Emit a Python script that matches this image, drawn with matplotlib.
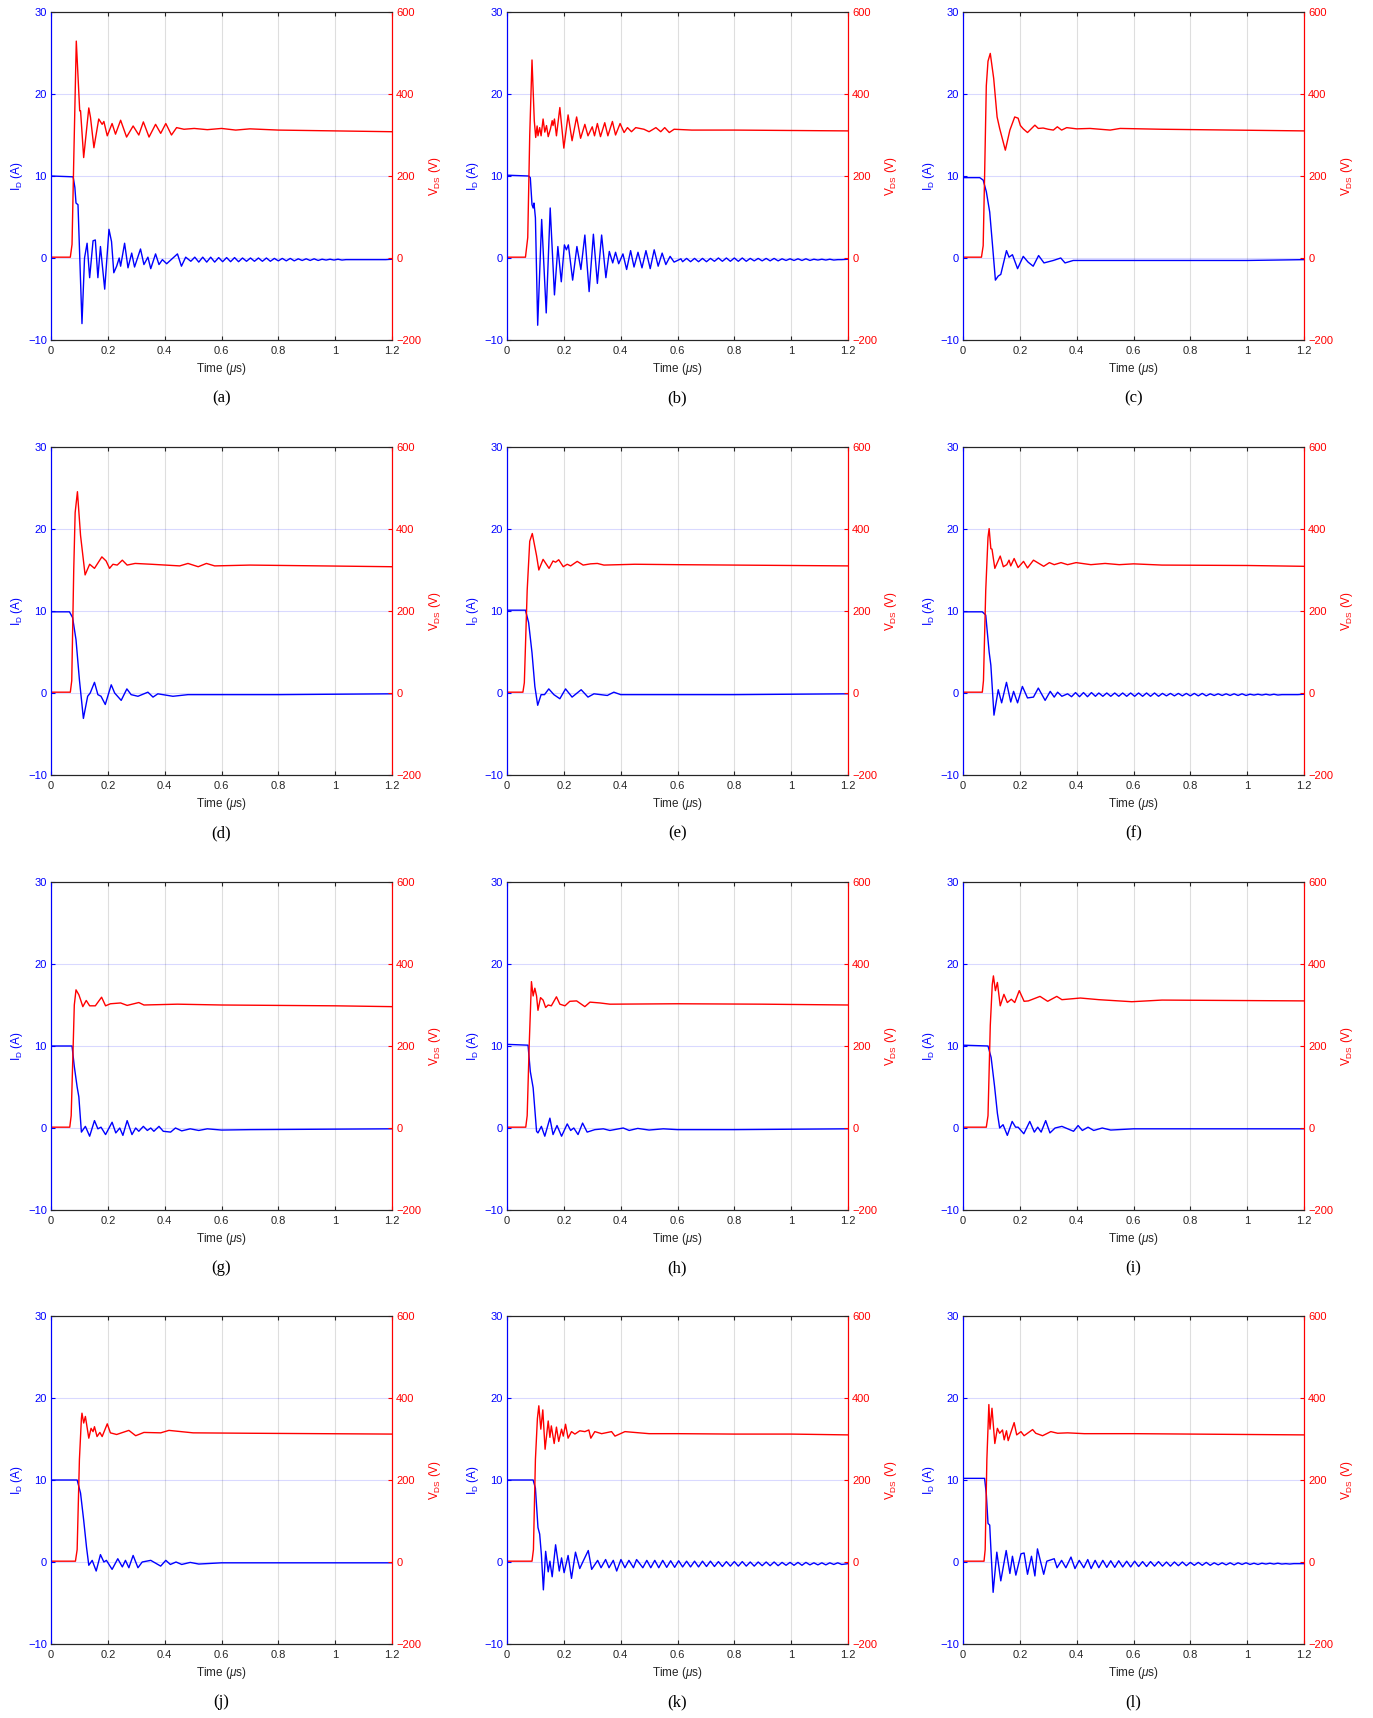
import matplotlib.pyplot as plt

plt.rcParams['font.family'] = ['Liberation Sans', 'DejaVu Sans']
plt.rcParams['mathtext.fontset'] = 'custom'
plt.rcParams['mathtext.rm'] = 'Liberation Sans'
plt.rcParams['mathtext.it'] = 'Liberation Sans:italic'

# drain current I_D (A) and drain-source voltage V_DS (V), time in us
ia_t = [0, 0.078, 0.084, 0.088, 0.095, 0.109, 0.118, 0.127, 0.136, 0.148, 0.156, 0.165, 0.174, 0.189, 0.204,
        0.213, 0.221, 0.231, 0.240, 0.245, 0.259, 0.271, 0.284, 0.294, 0.315, 0.327, 0.341, 0.351, 0.368, 0.380,
        0.392, 0.407, 0.445, 0.459, 0.474, 0.492]
ia = [10.0, 9.9, 8.6, 6.7, 6.5, -8.0, 0.0, 1.8, -2.4, 2.1, 2.2, -2.4, 1.4, -3.8, 3.5,
      2.0, -1.8, -1.0, 0.0, -1.0, 1.8, -1.2, 0.6, -1.1, 1.1, -0.8, 0.1, -1.3, 0.5, -0.8,
      -0.2, -0.7, 0.5, -1.0, 0.1, -0.4]
va_t = [0, 0.068, 0.074, 0.080, 0.089, 0.101, 0.104, 0.115, 0.133, 0.139, 0.151, 0.168, 0.180, 0.186, 0.198,
        0.215, 0.227, 0.245, 0.266, 0.289, 0.309, 0.325, 0.345, 0.368, 0.386, 0.404, 0.424, 0.442, 0.468, 0.504,
        0.55, 0.6, 0.65, 0.7, 0.8, 0.9, 1.0, 1.2]
va = [2, 2, 33, 237, 529, 359, 359, 245, 366, 343, 269, 339, 326, 333, 298,
      328, 302, 336, 295, 322, 300, 332, 295, 326, 304, 328, 300, 318, 314, 316,
      313, 316, 312, 315, 312, 311, 310, 308]

ib_t = [0, 0.076, 0.082, 0.088, 0.092, 0.095, 0.100, 0.108, 0.122, 0.138, 0.152, 0.167, 0.179, 0.191, 0.202,
        0.209, 0.216, 0.231, 0.246, 0.260, 0.274, 0.289, 0.304, 0.318, 0.333, 0.348, 0.360, 0.372, 0.382, 0.393,
        0.408, 0.421, 0.435, 0.447, 0.461, 0.475, 0.489, 0.504, 0.518, 0.532, 0.546, 0.559, 0.574, 0.588, 0.612]
ib = [10.1, 10.0, 9.8, 6.5, 6.1, 6.7, 4.9, -8.2, 4.7, -6.7, 6.1, -4.5, 1.4, -2.9, 1.6,
      1.0, 1.6, -2.7, 1.4, -1.4, 2.8, -4.1, 2.9, -3.1, 2.8, -2.4, 0.8, -0.6, 0.7, -0.7,
      0.5, -1.4, 0.9, -1.1, 0.7, -1.2, 0.9, -1.3, 1.0, -1.0, 0.6, -0.8, 0.2, -0.5, -0.1]
vb_t = [0, 0.065, 0.073, 0.080, 0.088, 0.096, 0.101, 0.106, 0.109, 0.115, 0.120, 0.127, 0.133, 0.139, 0.145,
        0.153, 0.159, 0.162, 0.167, 0.174, 0.186, 0.200, 0.215, 0.229, 0.245, 0.259, 0.274, 0.285, 0.300, 0.308,
        0.318, 0.329, 0.344, 0.355, 0.371, 0.382, 0.398, 0.412, 0.424, 0.438, 0.453, 0.482, 0.500, 0.524, 0.541,
        0.555, 0.571, 0.588, 0.65, 0.8, 1.0, 1.2]
vb = [2, 2, 50, 300, 483, 335, 294, 322, 298, 318, 298, 339, 307, 323, 296,
      315, 335, 323, 339, 298, 367, 268, 349, 286, 344, 292, 326, 298, 320, 298,
      328, 296, 330, 298, 333, 300, 328, 306, 318, 308, 318, 314, 308, 318, 308,
      318, 306, 314, 312, 312, 311, 310]

ic_t = [0, 0.059, 0.071, 0.082, 0.094, 0.104, 0.114, 0.124, 0.133, 0.153, 0.162, 0.174, 0.192, 0.212, 0.229,
        0.247, 0.266, 0.285, 0.318, 0.344, 0.359, 0.388, 0.6, 0.8, 1.0, 1.2]
ic = [9.8, 9.8, 9.5, 8.1, 5.6, 1.5, -2.7, -2.2, -2.0, 0.9, 0.1, 0.4, -1.3, 0.2, -0.5,
      -1.0, 0.3, -0.6, -0.3, 0.0, -0.6, -0.3, -0.3, -0.3, -0.3, -0.2]
vc_t = [0, 0.065, 0.071, 0.076, 0.082, 0.088, 0.096, 0.108, 0.120, 0.129, 0.149, 0.165, 0.182, 0.194, 0.202,
        0.212, 0.227, 0.253, 0.265, 0.282, 0.300, 0.318, 0.332, 0.347, 0.365, 0.40, 0.447, 0.518, 0.553, 0.7, 1.2]
vc = [2, 2, 30, 200, 420, 480, 499, 438, 344, 316, 263, 312, 344, 341, 323,
      315, 306, 324, 316, 317, 314, 312, 320, 312, 318, 315, 316, 312, 316, 314, 310]

id_t = [0, 0.065, 0.076, 0.088, 0.100, 0.114, 0.129, 0.138, 0.153, 0.165, 0.176, 0.191, 0.212, 0.224, 0.247,
        0.267, 0.282, 0.306, 0.341, 0.359, 0.376, 0.429, 0.482, 0.8, 1.2]
id_ = [9.9, 9.9, 9.2, 6.5, 1.6, -3.1, -0.4, 0.0, 1.3, -0.2, -0.4, -1.4, 1.0, 0.0, -0.9,
       0.5, -0.2, -0.4, 0.1, -0.5, -0.1, -0.4, -0.2, -0.2, -0.1]
vd_t = [0, 0.068, 0.073, 0.080, 0.085, 0.093, 0.104, 0.120, 0.136, 0.153, 0.179, 0.194, 0.206, 0.218, 0.233,
        0.251, 0.268, 0.296, 0.353, 0.453, 0.482, 0.518, 0.547, 0.576, 0.7, 1.2]
vd = [2, 2, 30, 300, 440, 491, 384, 288, 314, 304, 332, 322, 304, 314, 312,
      324, 312, 316, 314, 310, 316, 308, 316, 310, 312, 308]

ie_t = [0, 0.065, 0.076, 0.088, 0.098, 0.108, 0.120, 0.132, 0.147, 0.165, 0.186, 0.206, 0.229, 0.261, 0.285,
        0.306, 0.353, 0.376, 0.400, 0.8, 1.2]
ie = [10.1, 10.1, 8.6, 4.9, 0.8, -1.5, -0.2, -0.2, 0.5, -0.2, -0.7, 0.5, -0.5, 0.4, -0.5,
      -0.1, -0.3, 0.1, -0.2, -0.2, -0.1]
ve_t = [0, 0.056, 0.061, 0.071, 0.080, 0.089, 0.104, 0.112, 0.127, 0.148, 0.162, 0.171, 0.182, 0.198, 0.212,
        0.224, 0.247, 0.268, 0.294, 0.318, 0.341, 0.45, 0.6, 0.8, 1.2]
ve = [2, 2, 25, 250, 370, 389, 335, 300, 326, 304, 322, 319, 325, 308, 314,
      310, 321, 312, 315, 316, 312, 314, 313, 312, 310]

if_t = [0, 0.068, 0.080, 0.092, 0.098, 0.109, 0.124, 0.136, 0.153, 0.168, 0.178, 0.192, 0.209, 0.227, 0.248,
        0.265, 0.289, 0.307, 0.321, 0.333, 0.348, 0.368, 0.382, 0.396, 0.410, 0.424, 0.438, 0.452, 0.466]
if_ = [9.9, 9.9, 9.5, 5.0, 3.4, -2.7, 0.4, -1.2, 1.3, -1.1, 0.2, -1.2, 0.8, -0.6, -0.5,
       0.6, -0.9, 0.2, -0.5, 0.1, -0.4, -0.1, -0.45, 0.05, -0.45, 0.05, -0.45, 0.05, -0.4]
vf_t = [0, 0.068, 0.072, 0.080, 0.088, 0.092, 0.098, 0.102, 0.112, 0.131, 0.142, 0.154, 0.162, 0.168, 0.180,
        0.194, 0.213, 0.227, 0.248, 0.284, 0.304, 0.321, 0.345, 0.368, 0.398, 0.45, 0.5, 0.55, 0.6, 0.7,
        1.0, 1.2]
vf = [2, 2, 30, 250, 380, 401, 352, 351, 304, 334, 308, 313, 324, 310, 328,
      306, 321, 305, 324, 309, 318, 313, 318, 313, 318, 313, 316, 313, 315, 312,
      311, 309]

ig_t = [0, 0.074, 0.082, 0.092, 0.098, 0.107, 0.121, 0.136, 0.153, 0.165, 0.176, 0.192, 0.215, 0.228, 0.242,
        0.253, 0.268, 0.285, 0.298, 0.309, 0.325, 0.339, 0.351, 0.362, 0.380, 0.395, 0.421, 0.438, 0.46, 0.49,
        0.52, 0.55, 0.6, 0.7, 1.2]
ig = [10.0, 10.0, 7.5, 5.0, 3.8, -0.5, 0.2, -1.0, 0.9, -0.1, 0.1, -0.8, 0.7, -0.6, 0.0,
      -0.9, 0.9, -0.8, 0.0, -0.4, 0.2, -0.3, 0.0, -0.4, 0.2, -0.4, -0.5, 0.0, -0.35, -0.1,
      -0.3, -0.1, -0.25, -0.2, -0.1]
vg_t = [0, 0.066, 0.071, 0.078, 0.082, 0.088, 0.098, 0.104, 0.112, 0.124, 0.136, 0.156, 0.178, 0.192, 0.209,
        0.245, 0.268, 0.309, 0.327, 0.445, 0.6, 0.8, 1.0, 1.2]
vg = [2, 2, 30, 200, 300, 337, 325, 313, 296, 311, 298, 298, 319, 298, 303,
      305, 299, 306, 300, 302, 300, 299, 298, 296]

ih_t = [0, 0.074, 0.082, 0.092, 0.104, 0.109, 0.121, 0.133, 0.151, 0.162, 0.176, 0.192, 0.212, 0.224, 0.235,
        0.250, 0.266, 0.282, 0.309, 0.339, 0.362, 0.409, 0.43, 0.46, 0.5, 0.55, 0.6, 0.8, 1.2]
ih = [10.2, 10.1, 6.9, 4.9, -0.4, -0.6, 0.2, -1.0, 1.2, -0.8, 0.3, -1.0, 0.5, -0.3, 0.0,
      -0.8, 0.6, -0.5, -0.2, -0.1, -0.3, 0.0, -0.3, -0.05, -0.25, -0.1, -0.2, -0.2, -0.1]
vh_t = [0, 0.066, 0.071, 0.078, 0.086, 0.092, 0.098, 0.104, 0.109, 0.118, 0.127, 0.136, 0.145, 0.156, 0.174,
        0.186, 0.204, 0.221, 0.245, 0.274, 0.292, 0.327, 0.362, 0.6, 0.9, 1.2]
vh = [2, 2, 30, 200, 357, 322, 341, 322, 287, 318, 312, 294, 300, 298, 320,
      302, 298, 309, 310, 296, 307, 305, 302, 303, 302, 300]

ii_t = [0, 0.088, 0.099, 0.111, 0.121, 0.129, 0.141, 0.156, 0.173, 0.185, 0.194, 0.214, 0.235, 0.251, 0.263,
        0.275, 0.291, 0.306, 0.324, 0.348, 0.389, 0.405, 0.42, 0.44, 0.46, 0.49, 0.52, 0.6, 0.8, 1.2]
ii = [10.1, 10.0, 8.6, 5.1, 1.8, 0.0, 0.4, -0.9, 0.8, 0.1, 0.1, -0.7, 0.8, -0.5, 0.1,
      -0.5, 0.9, -0.6, 0.0, 0.2, -0.4, 0.3, -0.3, 0.1, -0.3, 0.0, -0.25, -0.1, -0.1, -0.1]
vi_t = [0, 0.082, 0.088, 0.096, 0.103, 0.107, 0.114, 0.121, 0.131, 0.144, 0.156, 0.170, 0.182, 0.198, 0.215,
        0.230, 0.271, 0.298, 0.330, 0.348, 0.413, 0.478, 0.594, 0.7, 1.2]
vi = [2, 2, 30, 250, 350, 371, 335, 355, 298, 326, 306, 314, 306, 335, 309,
      310, 321, 309, 321, 313, 317, 313, 308, 312, 310]

ij_t = [0, 0.092, 0.104, 0.115, 0.125, 0.133, 0.145, 0.159, 0.174, 0.186, 0.195, 0.215, 0.235, 0.251, 0.262,
        0.274, 0.289, 0.306, 0.321, 0.351, 0.386, 0.404, 0.42, 0.44, 0.46, 0.49, 0.52, 0.6, 0.8, 1.2]
ij = [10.0, 10.0, 8.4, 5.1, 1.8, -0.4, 0.2, -1.1, 0.9, 0.0, 0.2, -0.9, 0.4, -0.6, 0.2,
      -0.7, 0.8, -0.7, 0.0, 0.2, -0.5, 0.2, -0.3, 0.0, -0.3, -0.05, -0.25, -0.1, -0.1, -0.1]
vj_t = [0, 0.086, 0.092, 0.100, 0.107, 0.109, 0.115, 0.121, 0.133, 0.141, 0.148, 0.153, 0.162, 0.172, 0.180,
        0.198, 0.209, 0.231, 0.274, 0.298, 0.327, 0.386, 0.415, 0.5, 0.7, 1.2]
vj = [2, 2, 30, 250, 350, 363, 339, 355, 302, 326, 318, 330, 306, 316, 306,
      337, 315, 311, 321, 308, 316, 315, 321, 315, 314, 312]

ik_t = [0, 0.092, 0.100, 0.109, 0.115, 0.121, 0.128, 0.136, 0.145, 0.151, 0.159, 0.171, 0.184, 0.192, 0.201,
        0.215, 0.227, 0.241, 0.256, 0.268, 0.286, 0.298, 0.319, 0.331, 0.347, 0.359, 0.374, 0.386, 0.401, 0.415,
        0.429, 0.445, 0.456]
ik = [10.0, 10.0, 9.0, 4.2, 3.4, 0.9, -3.4, 1.3, -1.2, 0.1, -1.8, 2.1, -1.1, 0.5, -1.3,
      0.8, -2.0, 1.2, -0.8, 0.1, 1.4, -0.9, 0.2, -0.7, 0.3, -0.7, 0.2, -1.1, 0.3, -0.7,
      0.2, -0.7, 0.3]
vk_t = [0, 0.088, 0.093, 0.100, 0.107, 0.112, 0.119, 0.126, 0.134, 0.145, 0.151, 0.156, 0.166, 0.174, 0.182,
        0.192, 0.198, 0.206, 0.215, 0.227, 0.239, 0.256, 0.274, 0.288, 0.295, 0.309, 0.333, 0.368, 0.380, 0.415,
        0.5, 0.6, 0.8, 1.0, 1.2]
vk = [2, 2, 30, 250, 350, 381, 324, 371, 275, 344, 304, 332, 289, 329, 294,
      324, 307, 336, 302, 318, 312, 320, 318, 322, 302, 318, 313, 318, 307, 318,
      313, 313, 312, 312, 310]

il_t = [0, 0.076, 0.082, 0.088, 0.094, 0.098, 0.106, 0.119, 0.133, 0.152, 0.165, 0.174, 0.186, 0.204, 0.215,
        0.227, 0.241, 0.253, 0.262, 0.284, 0.295, 0.321, 0.331, 0.347, 0.362, 0.380, 0.394, 0.409, 0.425, 0.439,
        0.451, 0.465]
il = [10.2, 10.2, 8.3, 4.7, 4.5, 1.7, -3.7, 1.2, -2.3, 1.4, -1.4, 0.7, -1.6, 1.0, 1.1,
      -1.5, 0.7, -1.7, 1.6, -1.5, 0.1, 0.4, -0.7, 0.2, -0.7, 0.6, -0.8, 0.2, -0.7, 0.3,
      -0.8, 0.2]
vl_t = [0, 0.074, 0.078, 0.084, 0.091, 0.095, 0.102, 0.112, 0.121, 0.129, 0.139, 0.145, 0.153, 0.159, 0.168,
        0.180, 0.189, 0.204, 0.215, 0.229, 0.245, 0.256, 0.280, 0.309, 0.333, 0.368, 0.427, 0.6, 0.8, 1.2]
vl = [2, 2, 30, 250, 384, 324, 375, 289, 326, 314, 322, 298, 320, 296, 315,
      340, 310, 318, 308, 315, 323, 314, 308, 318, 314, 315, 313, 313, 312, 310]

tail_t = [0.478, 0.492, 0.506, 0.520, 0.534, 0.548, 0.562, 0.576, 0.590, 0.604,
          0.618, 0.632, 0.646, 0.660, 0.674, 0.688, 0.702, 0.716, 0.730, 0.744,
          0.758, 0.772, 0.786, 0.800, 0.814, 0.828, 0.842, 0.856, 0.870, 0.884,
          0.898, 0.912, 0.926, 0.940, 0.954, 0.968, 0.982, 0.996, 1.010, 1.024,
          1.038, 1.052, 1.066, 1.080, 1.094, 1.108, 1.122, 1.136, 1.150, 1.164,
          1.178, 1.2]
ia_tail = [0.1, -0.4, 0.1, -0.5, 0.1, -0.5, 0.1, -0.5, 0.05, -0.45,
           0.05, -0.45, 0.05, -0.45, 0.0, -0.4, 0.0, -0.4, 0.0, -0.4,
           0.0, -0.4, -0.05, -0.35, -0.05, -0.35, -0.05, -0.35, -0.1, -0.3,
           -0.1, -0.3, -0.1, -0.3, -0.15, -0.25, -0.15, -0.25, -0.15, -0.25,
           -0.2, -0.2, -0.2, -0.2, -0.2, -0.2, -0.2, -0.2, -0.2, -0.2,
           -0.2, -0.15]
ib_tail = [0, 0, 0, 0, 0, 0, 0, 0, 0, 0,
           -0.45, -0.05, -0.45, -0.05, -0.45, -0.05, -0.45, -0.05, -0.4, 0.0,
           -0.4, 0.0, -0.4, 0.0, -0.4, 0.0, -0.4, -0.05, -0.35, -0.05,
           -0.35, -0.05, -0.35, -0.05, -0.35, -0.1, -0.3, -0.1, -0.3, -0.1,
           -0.3, -0.1, -0.3, -0.15, -0.25, -0.15, -0.25, -0.15, -0.25, -0.2,
           -0.2, -0.15]
if_tail = [0.0, -0.4, 0.0, -0.4, 0.0, -0.4, 0.0, -0.4, 0.0, -0.4,
           0.0, -0.4, 0.0, -0.4, 0.0, -0.4, -0.05, -0.35, -0.05, -0.35,
           -0.05, -0.35, -0.05, -0.35, -0.05, -0.35, -0.05, -0.35, -0.1, -0.3,
           -0.1, -0.3, -0.1, -0.3, -0.1, -0.3, -0.1, -0.3, -0.15, -0.25,
           -0.15, -0.25, -0.15, -0.25, -0.15, -0.25, -0.2, -0.2, -0.2, -0.2,
           -0.2, -0.15]
ik_tail = [-0.7, 0.2, -0.7, 0.2, -0.7, 0.2, -0.65, 0.15, -0.65, 0.15,
           -0.6, 0.1, -0.6, 0.1, -0.6, 0.1, -0.55, 0.1, -0.55, 0.05,
           -0.55, 0.05, -0.5, 0.05, -0.5, 0.05, -0.5, 0.0, -0.5, 0.0,
           -0.45, 0.0, -0.45, 0.0, -0.45, -0.05, -0.4, -0.05, -0.4, -0.05,
           -0.4, -0.05, -0.35, -0.1, -0.35, -0.1, -0.35, -0.1, -0.3, -0.1,
           -0.3, -0.2]
il_tail = [-0.7, 0.2, -0.65, 0.15, -0.65, 0.15, -0.6, 0.1, -0.6, 0.1,
           -0.55, 0.05, -0.55, 0.05, -0.5, 0.05, -0.5, 0.0, -0.5, 0.0,
           -0.45, 0.0, -0.45, -0.05, -0.4, -0.05, -0.4, -0.05, -0.4, -0.1,
           -0.35, -0.1, -0.35, -0.1, -0.35, -0.1, -0.3, -0.1, -0.3, -0.15,
           -0.3, -0.15, -0.25, -0.15, -0.25, -0.15, -0.25, -0.2, -0.25, -0.2,
           -0.2, -0.2]

captions = ['(a)', '(b)', '(c)', '(d)', '(e)', '(f)', '(g)', '(h)', '(i)', '(j)', '(k)', '(l)']
panels = [(ia_t, ia, ia_tail, va_t, va), (ib_t, ib, ib_tail, vb_t, vb), (ic_t, ic, None, vc_t, vc),
          (id_t, id_, None, vd_t, vd), (ie_t, ie, None, ve_t, ve), (if_t, if_, if_tail, vf_t, vf),
          (ig_t, ig, None, vg_t, vg), (ih_t, ih, None, vh_t, vh), (ii_t, ii, None, vi_t, vi),
          (ij_t, ij, None, vj_t, vj), (ik_t, ik, ik_tail, vk_t, vk), (il_t, il, il_tail, vl_t, vl)]

W, H = 1373, 1718
fig = plt.figure(figsize=(W / 100, H / 100), dpi=100)

col_x = [51, 507, 963]
row_top = [12, 447, 882, 1316]
aw, ah = 341, 328
dark = (0.15, 0.15, 0.15)
blue = (0, 0, 1)
red = (1, 0, 0)

for k, (ti, cur, tail, tv, volt) in enumerate(panels):
    ti, cur = list(ti), list(cur)
    if tail is not None:
        for t, v in zip(tail_t, tail):
            if t > ti[-1]:
                ti.append(t)
                cur.append(v)
    r, c = divmod(k, 3)
    x0, y0 = col_x[c], row_top[r]
    ax = fig.add_axes([x0 / W, 1 - (y0 + ah) / H, aw / W, ah / H])
    ax.plot(ti, cur, color=blue, lw=1.0)
    ax.set_xlim(0, 1.2)
    ax.set_ylim(-10, 30)
    ax.set_xticks([0, 0.2, 0.4, 0.6, 0.8, 1.0, 1.2])
    ax.set_xticklabels(['0', '0.2', '0.4', '0.6', '0.8', '1', '1.2'])
    ax.set_yticks([-10, 0, 10, 20, 30])
    ax.grid(axis='x', color=dark, alpha=0.15, lw=0.8)
    ax.grid(axis='y', color=blue, alpha=0.15, lw=0.8)
    ax.tick_params(axis='x', direction='in', length=3, top=True, colors=dark, labelsize=8, pad=4)
    ax.tick_params(axis='y', direction='in', length=3, colors=blue, labelsize=8, pad=3)
    ax.set_xlabel('Time ($\\mu$s)', fontsize=8.5, color=dark, labelpad=4)
    ax.set_ylabel('I$_{\\rm D}$ (A)', fontsize=8.5, color=blue, labelpad=2)

    ax2 = ax.twinx()
    ax2.plot(tv, volt, color=red, lw=1.0)
    ax2.set_ylim(-200, 600)
    ax2.set_yticks([-200, 0, 200, 400, 600])
    ax2.tick_params(axis='y', direction='in', length=3, colors=red, labelsize=8, pad=3)
    ax2.set_ylabel('V$_{\\rm DS}$ (V)', fontsize=8.5, color=red, labelpad=4)

    for a in (ax, ax2):
        a.spines['top'].set_color(dark)
        a.spines['bottom'].set_color(dark)
        a.spines['left'].set_color(blue)
        a.spines['right'].set_color(red)
        for s in a.spines.values():
            s.set_linewidth(0.8)

    fig.text((x0 + aw / 2) / W, 1 - (y0 + ah + 58) / H, captions[k], ha='center', va='center',
             family=['Liberation Serif'], fontsize=12)

fig.savefig('out.png', dpi=100)
